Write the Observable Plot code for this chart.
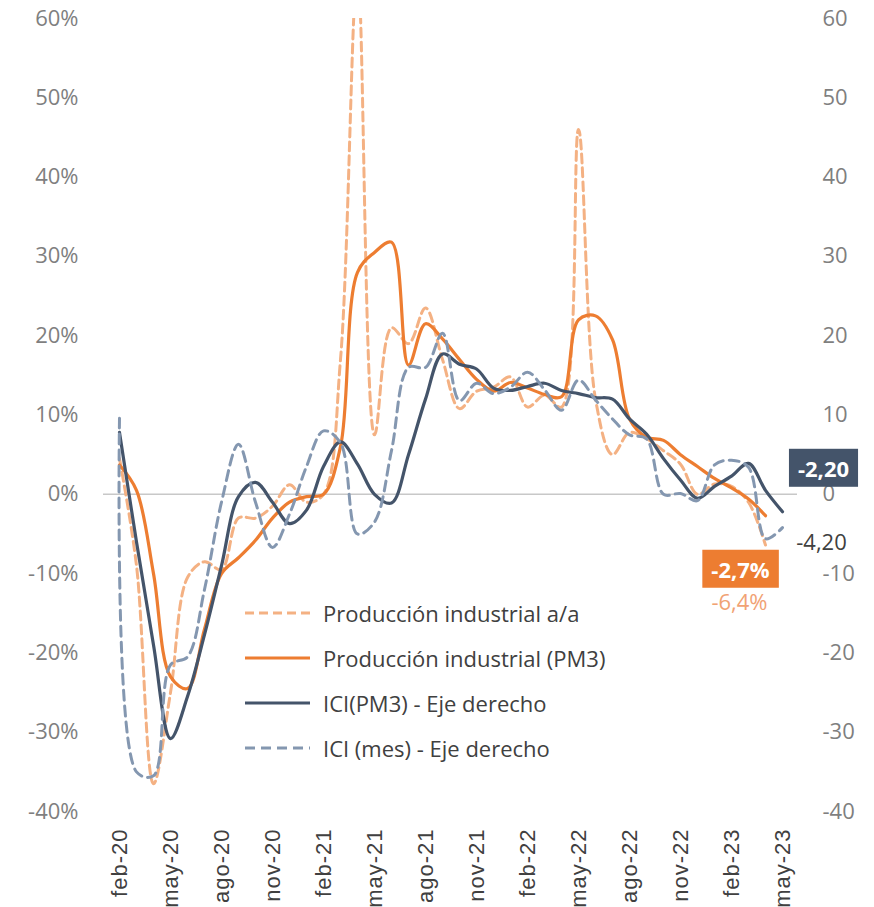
<!DOCTYPE html>
<html><head><meta charset="utf-8">
<script src="https://cdn.jsdelivr.net/npm/d3@7"></script>
<script src="https://cdn.jsdelivr.net/npm/@observablehq/plot@0.6"></script>
<style>
body{margin:0;background:#fff;}
#wrap{position:relative;width:874px;height:907px;font-family:"Open Sans",sans-serif;}
#legend{position:absolute;left:245px;top:590px;}
.row{display:flex;align-items:center;height:45px;font-size:22px;color:#404040;white-space:nowrap;}
.row svg{margin-right:13px;}
</style></head><body><div id="wrap"></div>
<script>
const months = ["feb-20","mar-20","abr-20","may-20","jun-20","jul-20","ago-20","sep-20","oct-20","nov-20","dic-20",
  "ene-21","feb-21","mar-21","abr-21","may-21","jun-21","jul-21","ago-21","sep-21","oct-21","nov-21","dic-21",
  "ene-22","feb-22","mar-22","abr-22","may-22","jun-22","jul-22","ago-22","sep-22","oct-22","nov-22","dic-22",
  "ene-23","feb-23","mar-23","abr-23","may-23"];
const tickMonths = ["feb-20","may-20","ago-20","nov-20","feb-21","may-21","ago-21","nov-21","feb-22","may-22","ago-22","nov-22","feb-23","may-23"];
const yTicks = [-40,-30,-20,-10,0,10,20,30,40,50,60];

// Producción industrial a/a (feb-20 .. abr-23)
const prodAA = [4.5,-9,-36.5,-25,-10.5,-8.5,-9.5,-3,-3,-1.5,1.2,-1,0,17,66,7.5,21,19,23.5,17,10.8,13,13.5,14.8,11,12.5,11,46,12,5,7.8,7,5.5,3.8,0,1.3,1.0,-1,-6.4];
// Producción industrial (PM3) (feb-20 .. abr-23)
const prodPM3 = [3.7,0.5,-10,-23,-24.5,-17,-10,-8,-5.8,-3,-1,-0.3,0,6,28,30.5,31.8,16.3,21.5,19.6,17,14.5,13,14.1,13.4,12.6,12.3,22,22.5,19.5,9.5,7.2,6.8,5,3.5,2,0.8,-0.6,-2.7];
// ICI (PM3) - eje derecho (feb-20 .. may-23)
const iciPM3 = [7.8,-6,-19,-30.8,-25.5,-17.7,-9,-0.3,1.5,-1,-3.7,-2,3.5,6.6,3.8,0,-1.1,5,12,17.7,16.4,15.8,13.4,13.1,13.6,14,13.1,12.7,12.2,12,9.5,7.6,4.5,1.8,-0.5,1,2.3,3.9,0.5,-2.2];
// ICI (mes) - eje derecho (feb-20 .. may-23)
const iciMes = [9.6,-35,-35.5,-21.5,-20.5,-12,-1,6.3,-1,-6.7,-2.5,3.5,8,6.5,-5,-3.5,5.5,16,16,20.3,11.8,14,12.7,13.5,15.4,13.2,10.6,14.4,11.9,9.5,7.5,7,0,0.1,-0.8,3.7,4.3,3.4,-5.6,-4.2];

const seriesNames = ["Producción industrial a/a","Producción industrial (PM3)","ICI(PM3) - Eje derecho","ICI (mes) - Eje derecho"];
const annICI = "-2,20", annICIMes = "-4,20", annPM3 = "-2,7%", annAA = "-6,4%";

const C_AA = "#F4B183", C_PM3 = "#ED7D31", C_ICI = "#44546A", C_MES = "#8497B0";

const toRows = arr => arr.map((v, i) => ({month: months[i], value: v}));
const rAA = toRows(prodAA), rPM3 = toRows(prodPM3), rICI = toRows(iciPM3), rMES = toRows(iciMes);
const last = r => [r[r.length - 1]];

const curve = {curve: "catmull-rom"};

const chart = Plot.plot({
  width: 874, height: 907,
  marginLeft: 103, marginRight: 77, marginTop: 18, marginBottom: 96,
  style: {fontFamily: "'Open Sans', sans-serif", background: "#fff", overflow: "visible"},
  x: {type: "point", domain: months, padding: 0.5},
  y: {domain: [-40, 60]},
  marks: [
    Plot.ruleY([0], {stroke: "#C8C8C8", strokeWidth: 1.5}),
    Plot.axisY({anchor: "left", ticks: yTicks, tickFormat: d => d + "%", tickSize: 0, tickPadding: 25, fontSize: 22, color: "#7F7F7F", label: null}),
    Plot.axisY({anchor: "right", ticks: yTicks, tickFormat: d => String(d), tickSize: 0, tickPadding: 25, fontSize: 22, color: "#7F7F7F", label: null}),
    Plot.axisX({ticks: tickMonths, tickRotate: -90, tickSize: 0, tickPadding: 17, fontSize: 22, color: "#404040", label: null, fontFamily: "'Liberation Sans', sans-serif"}),
    Plot.line(rAA, {x: "month", y: "value", stroke: C_AA, strokeWidth: 3, strokeDasharray: "9,5", clip: true, ...curve}),
    Plot.line(rPM3, {x: "month", y: "value", stroke: C_PM3, strokeWidth: 3.2, clip: true, ...curve}),
    Plot.line(rICI, {x: "month", y: "value", stroke: C_ICI, strokeWidth: 3.2, clip: true, ...curve}),
    Plot.line(rMES, {x: "month", y: "value", stroke: C_MES, strokeWidth: 3, strokeDasharray: "10,6", clip: true, ...curve}),
    Plot.text(last(rICI), {x: "month", y: "value", text: () => annICI, dx: 41, dy: -42, fill: "white", fontWeight: "bold", fontSize: 22, ariaLabel: () => "ann-navy"}),
    Plot.text(last(rMES), {x: "month", y: "value", text: () => annICIMes, dx: 39, dy: 15, fill: "#404040", fontSize: 22}),
    Plot.text(last(rPM3), {x: "month", y: "value", text: () => annPM3, dx: -25, dy: 55, fill: "white", fontWeight: "bold", fontSize: 22, ariaLabel: () => "ann-orange"}),
    Plot.text(last(rAA), {x: "month", y: "value", text: () => annAA, dx: -26, dy: 58, fill: "#F1A274", fontSize: 22})
  ]
});

const wrap = document.getElementById("wrap");
wrap.appendChild(chart);

// X tick labels letter spacing
d3.select(chart).selectAll('g[aria-label="x-axis tick label"] text').style("letter-spacing", "1px");

// boxes behind highlighted labels
function boxBehind(label, fill, padX, padY) {
  d3.select(chart).selectAll(`text[aria-label="${label}"]`).each(function() {
    const b = this.getBBox();
    const t = this.getAttribute("transform");
    const r = document.createElementNS("http://www.w3.org/2000/svg", "rect");
    r.setAttribute("x", b.x - padX); r.setAttribute("y", b.y - padY);
    r.setAttribute("width", b.width + 2 * padX); r.setAttribute("height", b.height + 2 * padY);
    r.setAttribute("fill", fill);
    if (t) r.setAttribute("transform", t);
    this.parentNode.insertBefore(r, this);
  });
}
boxBehind("ann-navy", C_ICI, 9, 4);
boxBehind("ann-orange", C_PM3, 9, 4);

// legend
const legend = document.createElement("div");
legend.id = "legend";
const styles = [[C_AA, "9,5", 3], [C_PM3, null, 3.2], [C_ICI, null, 3.2], [C_MES, "10,6", 3]];
seriesNames.forEach((name, i) => {
  const row = document.createElement("div");
  row.className = "row";
  const [c, dash, w] = styles[i];
  row.innerHTML = `<svg width="65" height="6"><line x1="0" x2="65" y1="3" y2="3" stroke="${c}" stroke-width="${w}" ${dash ? `stroke-dasharray="${dash}"` : ""}/></svg><span>${name}</span>`;
  legend.appendChild(row);
});
wrap.appendChild(legend);
</script>
</body></html>
